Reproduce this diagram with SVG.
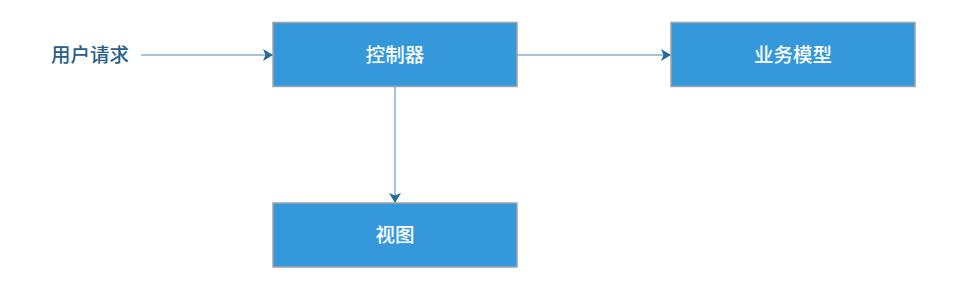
<svg xmlns="http://www.w3.org/2000/svg" width="954" height="298" viewBox="0 0 954 298">
<defs>
<style>
.box{fill:#3498db;stroke:#a0a4a8;stroke-width:1.5}
.lbl{font-family:"Liberation Sans","Noto Sans CJK SC",sans-serif;font-size:19.5px;font-weight:500;fill:#ffffff;text-anchor:middle;dominant-baseline:central}
.edge{stroke:#86b2cf;stroke-width:1.5;fill:none}
.ext{font-family:"Liberation Sans","Noto Sans CJK SC",sans-serif;font-size:19.5px;font-weight:500;fill:#2a5f8c;text-anchor:middle;dominant-baseline:central}
</style>
<marker id="arr" viewBox="0 0 10 12" refX="10" refY="6" markerWidth="10" markerHeight="12" markerUnits="userSpaceOnUse" orient="auto">
<path d="M0,0 L10,6 L0,12 L2.5,6 Z" fill="#256a9c"/>
</marker>
</defs>
<g id="connectors">
<line class="edge" x1="141" y1="55" x2="273" y2="55" marker-end="url(#arr)"/>
<line class="edge" x1="517" y1="55" x2="671" y2="55" marker-end="url(#arr)"/>
<line class="edge" x1="395" y1="87" x2="395" y2="203" marker-end="url(#arr)"/>
</g>
<g id="user-request">
<text class="ext" x="90" y="55">用户请求</text>
</g>
<g id="controller">
<rect class="box" x="273" y="22.5" width="244" height="64"/>
<text class="lbl" x="395" y="55">控制器</text>
</g>
<g id="business-model">
<rect class="box" x="671" y="22.5" width="244" height="64"/>
<text class="lbl" x="793" y="55">业务模型</text>
</g>
<g id="view">
<rect class="box" x="273" y="203" width="244" height="64"/>
<text class="lbl" x="395" y="235">视图</text>
</g>
</svg>
